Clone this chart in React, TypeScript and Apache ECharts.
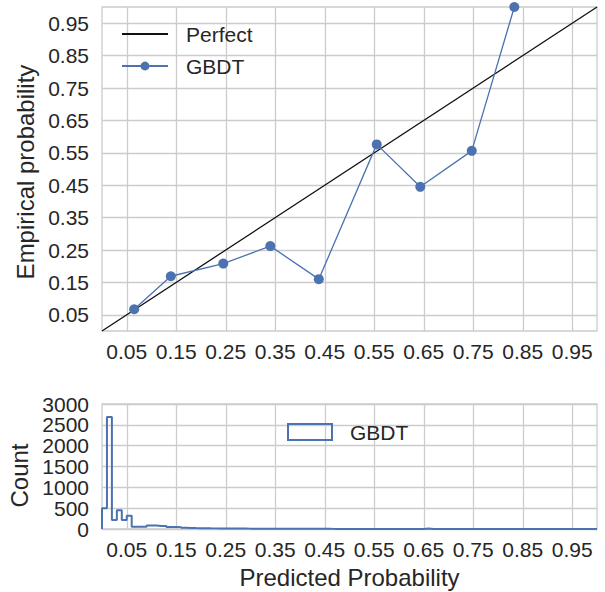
import React, { useEffect, useRef } from 'react';
import * as echarts from 'echarts';

// ---- data ----
const tickValues = [0.05, 0.15, 0.25, 0.35, 0.45, 0.55, 0.65, 0.75, 0.85, 0.95];
const perfectX = [0, 1];
const perfectY = [0, 1];
const gbdtMeanPredicted = [0.065, 0.139, 0.245, 0.34, 0.438, 0.555, 0.643, 0.747, 0.833];
const gbdtFractionPositive = [0.067, 0.169, 0.208, 0.262, 0.16, 0.576, 0.445, 0.556, 1.0];
const histRange = [0, 1];
const histCounts = [
  500, 2690, 215, 450, 215, 320, 55, 55, 55, 85,
  85, 70, 70, 48, 48, 45, 28, 25, 22, 20,
  18, 16, 15, 14, 13, 12, 11, 10, 10, 9,
  9, 8, 8, 7, 7, 6, 6, 6, 5, 5,
  5, 5, 4, 4, 4, 4, 3, 3, 3, 3,
  3, 3, 3, 3, 2, 2, 2, 2, 2, 2,
  2, 2, 2, 2, 2, 12, 2, 2, 2, 2,
  2, 2, 1, 1, 1, 1, 1, 1, 1, 1,
  1, 1, 1, 1, 0, 0, 0, 0, 0, 0,
  0, 0, 0, 0, 0, 0, 0, 0, 0, 0,
];
const countMax = 3000;
const countInterval = 500;

const FONT = '"Liberation Sans", Arial, Helvetica, sans-serif';
const TEXT = '#262626';
const GRIDC = '#cccccc';
const BLUE = '#4c72b0';

export default function App() {
  const ref = useRef<HTMLDivElement>(null);
  useEffect(() => {
    if (!ref.current) return;
    const chart = echarts.init(ref.current, null, { renderer: 'svg' });

    const nBins = histCounts.length;
    const binW = (histRange[1] - histRange[0]) / nBins;
    const histData: number[][] = [[histRange[0], 0]];
    histCounts.forEach((c, i) => histData.push([histRange[0] + (i + 1) * binW, c]));
    histData.push([histRange[1], 0]);

    const label = {
      customValues: tickValues,
      formatter: (v: number) => v.toFixed(2),
      fontSize: 21,
      color: TEXT,
      fontFamily: FONT,
    };
    const split = { show: true, lineStyle: { color: GRIDC, width: 1.3 } };

    const option: any = {
      animation: false,
      backgroundColor: '#ffffff',
      textStyle: { fontFamily: FONT, color: TEXT },
      grid: [
        { left: 102, right: 8, top: 7, bottom: 261, show: true, borderColor: GRIDC, borderWidth: 1.3, backgroundColor: '#fff', outerBoundsMode: 'none', containLabel: false },
        { left: 102, right: 8, top: 404, bottom: 63, show: true, borderColor: GRIDC, borderWidth: 1.3, backgroundColor: '#fff', outerBoundsMode: 'none', containLabel: false },
      ],
      xAxis: [
        {
          type: 'value', gridIndex: 0, min: 0, max: 1,
          axisLine: { show: false },
          axisTick: { show: false, customValues: tickValues },
          axisLabel: { ...label, margin: 10 },
          splitLine: split,
        },
        {
          type: 'value', gridIndex: 1, min: 0, max: 1,
          axisLine: { show: false },
          axisTick: { show: false, customValues: tickValues },
          axisLabel: { ...label, margin: 10 },
          splitLine: split,
          name: 'Predicted Probability',
          nameLocation: 'middle',
          nameGap: 36,
          nameTextStyle: { fontSize: 24, color: TEXT, fontFamily: FONT },
        },
      ],
      yAxis: [
        {
          type: 'value', gridIndex: 0, min: 0, max: 1,
          axisLine: { show: false },
          axisTick: { show: false, customValues: tickValues },
          axisLabel: { ...label, margin: 13 },
          splitLine: split,
          name: 'Empirical probability',
          nameLocation: 'middle',
          nameGap: 62,
          nameTextStyle: { fontSize: 24, color: TEXT, fontFamily: FONT, padding: [0, 6, 0, 0] },
        },
        {
          type: 'value', gridIndex: 1, min: 0, max: countMax, interval: countInterval,
          axisLine: { show: false },
          axisTick: { show: false },
          axisLabel: { fontSize: 21, color: TEXT, fontFamily: FONT, margin: 13, formatter: (v: number) => String(v) },
          splitLine: split,
          name: 'Count',
          nameLocation: 'middle',
          nameGap: 69,
          nameTextStyle: { fontSize: 24, color: TEXT, fontFamily: FONT, padding: [0, 18, 0, 0] },
        },
      ],
      legend: [
        {
          orient: 'vertical', left: 121, top: 23, padding: 0,
          itemWidth: 46, itemHeight: 11, itemGap: 10,
          data: [
            { name: 'Perfect', itemStyle: { color: 'rgba(0,0,0,0)', borderWidth: 0, opacity: 0 } },
            'GBDT',
          ],
          textStyle: { fontSize: 21, color: TEXT, fontFamily: FONT, lineHeight: 22, padding: [0, 0, 0, 13] },
        },
        {
          orient: 'vertical', left: 287, top: 421, padding: 0,
          itemWidth: 44, itemHeight: 16,
          data: [{ name: 'GBDT', icon: 'rect', itemStyle: { color: 'rgba(0,0,0,0)', borderColor: BLUE, borderWidth: 2 } }],
          textStyle: { fontSize: 21, color: TEXT, fontFamily: FONT, lineHeight: 22, padding: [0, 0, 0, 13] },
        },
      ],
      series: [
        {
          name: 'Perfect', type: 'line', xAxisIndex: 0, yAxisIndex: 0,
          data: perfectX.map((x, i) => [x, perfectY[i]]),
          symbol: 'none', showSymbol: false,
          lineStyle: { color: '#111111', width: 1.3 },
          itemStyle: { color: '#111111' },
        },
        {
          name: 'GBDT', type: 'line', xAxisIndex: 0, yAxisIndex: 0,
          data: gbdtMeanPredicted.map((x, i) => [x, gbdtFractionPositive[i]]),
          symbol: 'circle', symbolSize: 10,
          lineStyle: { color: BLUE, width: 1.3 },
          itemStyle: { color: BLUE },
        },
        {
          name: 'GBDT', type: 'line', xAxisIndex: 1, yAxisIndex: 1,
          data: histData, step: 'start', symbol: 'none', showSymbol: false, clip: false,
          lineStyle: { color: BLUE, width: 2 },
          itemStyle: { color: BLUE },
        },
      ],
    };
    chart.setOption(option);
    return () => chart.dispose();
  }, []);
  return <div ref={ref} style={{ position: 'absolute', left: 0, top: 0, width: 605, height: 592 }} />;
}
